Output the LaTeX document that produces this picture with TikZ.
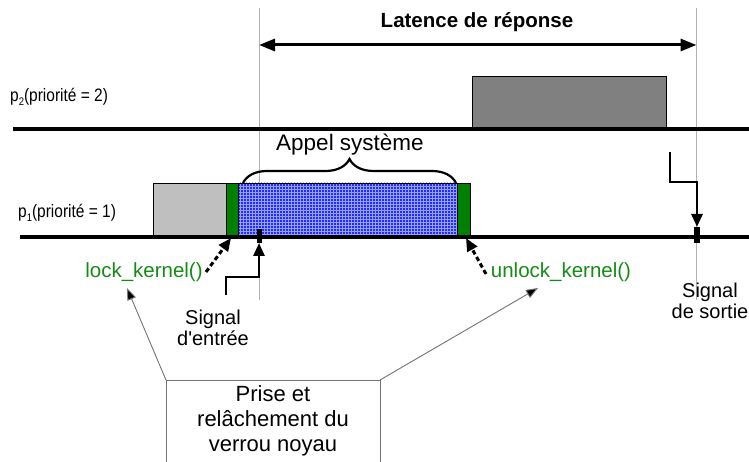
\documentclass[tikz,border=0pt]{standalone}
\usepackage{fontspec}
\setmainfont{Liberation Sans}
\usetikzlibrary{arrows.meta,patterns,decorations.pathreplacing}
\definecolor{kgreen}{RGB}{20,140,20}
\definecolor{boxgreen}{RGB}{0,128,0}
\definecolor{hatchblue}{RGB}{30,45,255}
\newcommand\mysub[1]{\raisebox{-0.45ex}{\fontsize{11}{11}\selectfont #1}}
\begin{document}
\begin{tikzpicture}[x=1pt,y=-1pt,
  guide/.style={draw=gray!60,line width=0.8pt},
  axisline/.style={line width=3.2pt},
  sig/.style={line width=2.8pt,-{Triangle[length=13pt,width=11pt]}},
  lockarr/.style={line width=3pt,dash pattern=on 4.5pt off 3pt,-{Triangle[length=13pt,width=11pt]}},
  callout/.style={draw=gray!90!black,line width=0.9pt,-{Triangle[length=12pt,width=9pt,fill=black]}},
  txt/.style={inner sep=0pt,font=\fontsize{20}{21}\selectfont,align=center},
  plabel/.style={inner sep=0pt,anchor=west,font=\fontsize{18}{20}\selectfont},
  kernlbl/.style={inner sep=0pt,text=kgreen,font=\fontsize{20.5}{22}\selectfont},
  taskbox/.style={draw=black,line width=0.7pt}
]
\useasboundingbox (0,0) rectangle (749,462);

% guides
\draw[guide] (259,8) -- (259,300);
\draw[guide] (696.5,8) -- (696.5,300);

% latency arrow
\coordinate (latA) at (259,45);
\coordinate (latB) at (696.5,45);
\draw[line width=3pt,{Triangle[length=16pt,width=12pt]}-{Triangle[length=16pt,width=12pt]}] (latA) -- (latB);
\node[txt,font=\bfseries\fontsize{20.5}{22}\selectfont] (lat) at (477,22) {Latence de réponse};

% p2
\node[plabel] (p2) at (10,97) {\scalebox{0.86}[1]{p\mysub{2}(priorité = 2)}};
\draw[taskbox,fill=black!50] (472,76) rectangle (666,129);
\draw[axisline] (13,129) -- (749,129);

% p1
\node[plabel] (p1) at (18,213) {\scalebox{0.86}[1]{p\mysub{1}(priorité = 1)}};
\draw[taskbox,fill=black!25] (153,183) rectangle (226,237);
\fill[hatchblue] (238,183) rectangle (457,237);
\fill[pattern=grid,pattern color=white!55!hatchblue] (238,183) rectangle (457,237);
\draw[black,line width=0.5pt] (238,183) -- (457,183);
\draw[taskbox,fill=boxgreen] (226,183) rectangle (238,237);
\draw[taskbox,fill=boxgreen] (457,183) rectangle (470,237);
\draw[axisline] (20,237) -- (749,237);

% brace
\draw[line width=2.2pt,decorate,decoration={brace,amplitude=24pt}] (243,183) -- (456,183);
\node[txt,font=\fontsize{22.5}{24}\selectfont] (appel) at (350,145) {Appel système};

% ticks
\fill (256.5,229) rectangle (262,243);
\fill (694,227) rectangle (699.5,243);

% signal in
\coordinate (sin0) at (226,295);
\coordinate (sin1) at (226,277);
\coordinate (sin2) at (259,277);
\coordinate (sinT) at (259,243);
\draw[sig] (sin0) -- (sin1) -- (sin2) -- (sinT);
\node[txt] (sinL) at (213,328) {Signal\\d\textquotesingle entrée};

% signal out
\coordinate (sout0) at (670,152);
\coordinate (sout1) at (670,182);
\coordinate (sout2) at (697,182);
\coordinate (soutT) at (697,227);
\draw[sig] (sout0) -- (sout1) -- (sout2) -- (soutT);
\node[txt] (soutL) at (710,301) {Signal\\de sortie};

% lock / unlock
\node[kernlbl] (lock) at (144,272) {lock\_kernel()};
\node[kernlbl] (unlock) at (561,272) {unlock\_kernel()};
\coordinate (lockT) at (231,238);
\coordinate (unlockT) at (466,238);
\draw[lockarr] (206,272) -- (lockT);
\draw[lockarr] (486,274) -- (unlockT);

% callout box
\coordinate (cbL) at (166,380);
\coordinate (cbR) at (380,380);
\draw[draw=gray!90!black,line width=1pt] (166,470) -- (cbL) -- (cbR) -- (380,470);
\node[txt,font=\fontsize{22}{25}\selectfont] (cb) at (273,421) {Prise et\\relâchement du\\verrou noyau};
\coordinate (lockP) at (127,288);
\coordinate (unlockP) at (538,288);
\draw[callout] (cbL) -- (lockP);
\draw[callout] (cbR) -- (unlockP);
\end{tikzpicture}
\end{document}
